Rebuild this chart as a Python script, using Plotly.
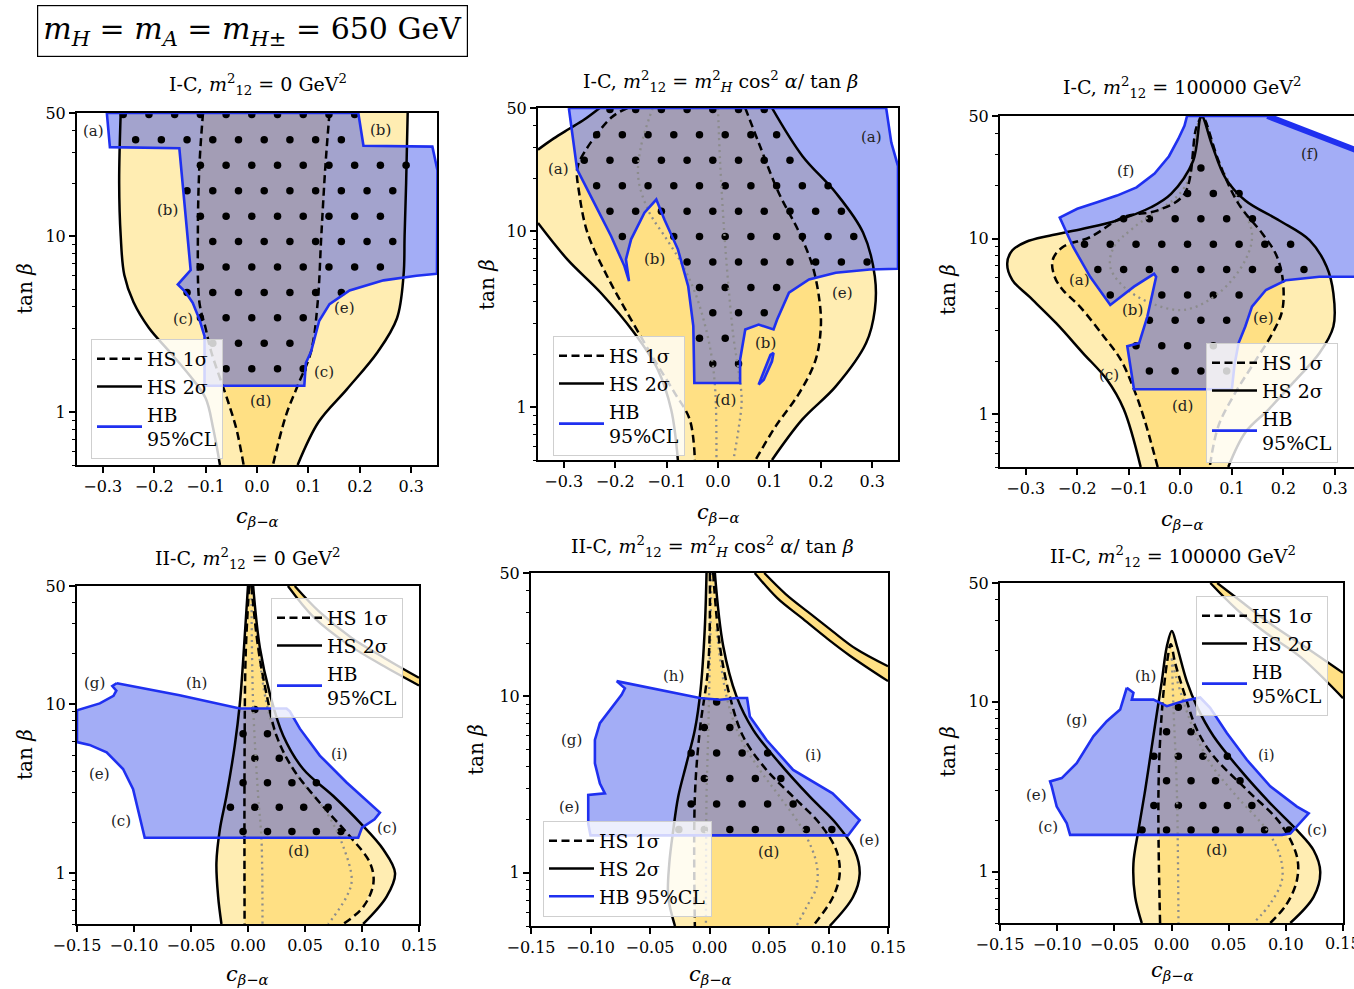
import numpy as np
import plotly.graph_objects as go

FIG_W, FIG_H = 1354, 989
SERIF = "DejaVu Serif, Liberation Serif, serif"

C_2SIG = "#FFEDB2"
C_1SIG = "#FFE084"
C_HB_FILL = "rgba(60,80,235,0.47)"
C_HB_LINE = "#1F30F0"
C_GREY = "#8c8c8c"

# ---------------------------------------------------------------- I-C, m12^2 = 0
IC0_HS2_LEFT = [(-0.265, 50), (-0.268, 20), (-0.265, 10), (-0.258, 6), (-0.24, 4.2), (-0.21, 3.0),
                (-0.17, 2.2), (-0.13, 1.6), (-0.10, 1.2), (-0.085, 0.8), (-0.072, 0.5)]
IC0_HS2_RIGHT = [(0.293, 50), (0.29, 20), (0.287, 10), (0.285, 6), (0.272, 3.4), (0.235, 2.2),
                 (0.175, 1.35), (0.12, 0.88), (0.079, 0.5)]
IC0_HS1_LEFT = [(-0.105, 50), (-0.112, 25), (-0.115, 10), (-0.112, 4.2), (-0.1, 3.0), (-0.089, 2.2),
                (-0.056, 1.14), (-0.04, 0.8), (-0.026, 0.5)]
IC0_HS1_RIGHT = [(0.141, 50), (0.133, 25), (0.125, 10), (0.118, 4.2), (0.105, 2.2), (0.079, 1.41),
                 (0.056, 0.95), (0.031, 0.5)]
IC0_HB = [(-0.292, 50), (-0.286, 32), (-0.151, 31.5), (-0.129, 6.4), (-0.154, 5.3), (-0.139, 4.8),
          (-0.125, 4.17), (-0.112, 3.36), (-0.102, 2.7), (-0.102, 1.41), (0.092, 1.41), (0.095, 1.9),
          (0.105, 2.2), (0.121, 3.3), (0.141, 4.1), (0.18, 4.9), (0.246, 5.6), (0.31, 5.95), (0.35, 6.1),
          (0.351, 23.6), (0.341, 32.2), (0.207, 32.6), (0.197, 50)]
IC0_LABELS = [("(a)", -0.318, 39.6), ("(b)", 0.24, 40), ("(b)", -0.174, 14), ("(c)", -0.144, 3.36),
              ("(e)", 0.171, 3.9), ("(c)", 0.131, 1.68), ("(d)", 0.007, 1.16)]

# ------------------------------------------- I-C, m12^2 = mH^2 cos^2(alpha)/tan(beta)
ICH_HS2_UPPER = [(-0.35, 29), (-0.32, 33.5), (-0.29, 38), (-0.26, 43), (-0.23, 50)]
ICH_HS2_LOWER = [(-0.35, 11.1), (-0.293, 6.9), (-0.228, 4.46), (-0.163, 2.64), (-0.117, 1.63),
                 (-0.091, 0.966), (-0.078, 0.5)]
ICH_HS2_RIGHT = [(0.105, 50), (0.164, 26.7), (0.229, 16.5), (0.282, 9.8), (0.305, 5.5), (0.305, 3.58),
                 (0.288, 2.31), (0.229, 1.31), (0.164, 0.85), (0.105, 0.5)]
ICH_HS1_LEFT = [(-0.176, 50), (-0.208, 44), (-0.264, 26.7), (-0.274, 22.4), (-0.27, 16.5), (-0.254, 9.8),
                (-0.215, 5.5), (-0.169, 3.14), (-0.124, 1.86), (-0.084, 1.2), (-0.055, 0.85), (-0.045, 0.5)]
ICH_HS1_RIGHT = [(0.053, 50), (0.079, 31.8), (0.118, 16.5), (0.158, 9.8), (0.184, 6.3), (0.197, 4.08),
                 (0.2, 2.88), (0.19, 1.86), (0.158, 1.2), (0.112, 0.776), (0.073, 0.5)]
ICH_DOTTED_A = [(-0.127, 50), (-0.15, 30), (-0.155, 20), (-0.135, 13), (-0.1, 9), (-0.07, 6.5),
                (-0.045, 4.5), (-0.025, 2.9), (-0.012, 1.9), (-0.005, 1.2), (-0.003, 0.5)]
ICH_DOTTED_B = [(0.0, 50), (0.004, 25), (0.012, 10), (0.02, 5), (0.03, 2.5), (0.04, 1.6), (0.046, 1.1),
                (0.04, 0.75), (0.03, 0.5)]
ICH_HB = [(-0.29, 50), (-0.274, 22.4), (-0.241, 14.5), (-0.208, 9.37), (-0.182, 6.32), (-0.173, 5.19),
          (-0.179, 6.9), (-0.169, 8.97), (-0.143, 12.7), (-0.12, 15.1), (-0.104, 11.6), (-0.078, 7.87),
          (-0.058, 4.86), (-0.048, 2.88), (-0.046, 1.37), (0.043, 1.37), (0.043, 1.86), (0.053, 2.76),
          (0.079, 2.94), (0.108, 2.76), (0.115, 3.14), (0.138, 4.46), (0.177, 5.31), (0.229, 5.79),
          (0.295, 6.05), (0.35, 6.1), (0.35, 23.4), (0.337, 31.8), (0.327, 50)]
ICH_HB_ISLAND = [(0.079, 1.34), (0.102, 1.98), (0.108, 2.03), (0.105, 1.82), (0.089, 1.43)]
ICH_LABELS = [("(a)", 0.298, 34), ("(a)", -0.31, 22.4), ("(b)", -0.123, 6.9), ("(e)", 0.243, 4.46),
              ("(b)", 0.092, 2.31), ("(d)", 0.014, 1.1)]

# ----------------------------------------------------------- I-C, m12^2 = 100000
ICK_HS2_LEFT = [(0.041, 50), (0.025, 27.8), (-0.018, 18), (-0.057, 15.1), (-0.123, 12.7), (-0.189, 11.4),
                (-0.254, 10.4), (-0.3, 9.57), (-0.326, 8.59), (-0.336, 7.22), (-0.326, 5.81), (-0.293, 4.67),
                (-0.241, 3.3), (-0.189, 2.23), (-0.143, 1.58), (-0.11, 1.07), (-0.077, 0.5)]
ICK_HS2_RIGHT = [(0.041, 50), (0.061, 34.5), (0.087, 22.3), (0.126, 16.5), (0.192, 12.7), (0.251, 9.79),
                 (0.284, 6.92), (0.297, 4.88), (0.297, 3.16), (0.27, 2.23), (0.225, 1.58), (0.172, 1.07),
                 (0.126, 0.787), (0.093, 0.5)]
ICK_HS1_LEFT = [(0.043, 50), (0.031, 42.9), (0.008, 18), (-0.044, 14.5), (-0.11, 13.3), (-0.175, 10.2),
                (-0.228, 8.97), (-0.248, 7.54), (-0.244, 6.07), (-0.228, 5.1), (-0.195, 4.1), (-0.149, 2.78),
                (-0.116, 2.05), (-0.09, 1.385), (-0.07, 0.937), (-0.044, 0.5)]
ICK_HS1_RIGHT = [(0.043, 50), (0.048, 47.5), (0.074, 27.8), (0.113, 15.8), (0.159, 10.7), (0.185, 8.2),
                 (0.198, 6.07), (0.198, 3.93), (0.179, 2.9), (0.139, 1.88), (0.107, 1.33), (0.074, 0.859),
                 (0.057, 0.5)]
ICK_DOTTED = [(0.041, 50), (0.008, 19.6), (-0.09, 11.6), (-0.129, 8.97), (-0.136, 6.9), (-0.11, 5.33),
              (-0.057, 4.29), (0.008, 3.93), (0.074, 4.88), (0.126, 7.54), (0.139, 10.7), (0.113, 16.5),
              (0.074, 27.8), (0.041, 50)]
ICK_HB = [(0.013, 50), (0.169, 50), (0.35, 31.2), (0.35, 6.07), (0.27, 6.07), (0.205, 5.8), (0.166, 5.1),
          (0.139, 4.1), (0.126, 3.16), (0.113, 2.54), (0.105, 1.9), (0.1, 1.386), (-0.09, 1.386),
          (-0.103, 2.44), (-0.08, 2.54), (-0.064, 3.6), (-0.047, 6.06), (-0.051, 6.3), (-0.09, 5.33),
          (-0.136, 4.19), (-0.175, 6.06), (-0.208, 8.97), (-0.234, 13.2), (-0.2, 14.8), (-0.16, 16.2),
          (-0.123, 17.6), (-0.085, 19.6), (-0.05, 23.5), (-0.022, 29.5), (-0.004, 37), (0.008, 44)]
ICK_LABELS = [("(f)", -0.107, 24.4), ("(f)", 0.251, 30.3), ("(a)", -0.195, 5.81), ("(b)", -0.093, 3.93),
              ("(e)", 0.162, 3.53), ("(c)", -0.139, 1.68), ("(d)", 0.005, 1.11)]

# --------------------------------------------------------------- II-C, m12^2 = 0
IIC0_HS2_LEFT = [(0.0, 50), (-0.0043, 17.9), (-0.0072, 10), (-0.0116, 5.7), (-0.0189, 2.86),
                 (-0.0247, 1.81), (-0.0277, 1.15), (-0.0262, 0.726), (-0.0233, 0.5)]
IIC0_HS2_RIGHT = [(0.0045, 50), (0.0104, 21.6), (0.0192, 11.5), (0.0309, 6.5), (0.0484, 4.13),
                  (0.0748, 2.86), (0.0982, 1.99), (0.1187, 1.38), (0.129, 1.0), (0.1216, 0.726), (0.101, 0.5)]
IIC0_HS1_LEFT = [(0.001, 50), (-0.002, 20), (-0.003, 5), (-0.003, 0.5)]
IIC0_HS1_RIGHT = [(0.003, 50), (0.0089, 21.6), (0.0162, 11.5), (0.025, 6.5), (0.0396, 4.13), (0.063, 2.61),
                  (0.0894, 1.65), (0.107, 1.15), (0.11, 0.87), (0.101, 0.63), (0.0835, 0.5)]
IIC0_DOT_LEFT = [(0.003, 50), (0.0045, 10), (0.0089, 2.86), (0.0118, 1.6), (0.0127, 0.5)]
IIC0_DOT_RIGHT = [(0.0075, 28), (0.016, 10.3), (0.028, 5.7), (0.0456, 3.6), (0.069, 2.28), (0.0835, 1.44),
                  (0.091, 0.91), (0.0865, 0.726), (0.0704, 0.5)]
IIC0_BAND_A = [(0.041, 50), (0.062, 35.5), (0.091, 24.6), (0.12, 18.7), (0.15, 14.3)]
IIC0_BAND_B = [(0.035, 50), (0.058, 32.5), (0.088, 22.5), (0.117, 17.1), (0.15, 12.9)]
IIC0_HB = [(-0.115, 13.3), (-0.06, 11.3), (-0.0072, 9.42), (0.02, 9.4), (0.0338, 9.42), (0.0367, 9.07),
           (0.0455, 7.16), (0.063, 4.96), (0.0865, 3.44), (0.1157, 2.28), (0.111, 2.08), (0.1, 1.86),
           (0.0967, 1.62), (-0.0906, 1.62), (-0.095, 2.18), (-0.1008, 3.14), (-0.1096, 4.13),
           (-0.124, 5.19), (-0.139, 5.74), (-0.15, 5.96), (-0.15, 9.2), (-0.13, 10.1), (-0.118, 11.2),
           (-0.1155, 12.0), (-0.119, 12.8)]
IIC0_LABELS = [("(g)", -0.1345, 13.3), ("(h)", -0.0452, 13.3), ("(i)", 0.0806, 5.08), ("(e)", -0.13, 3.86),
               ("(c)", -0.111, 2.03), ("(c)", 0.1216, 1.85), ("(d)", 0.044, 1.35)]

# ------------------------------------------ II-C, m12^2 = mH^2 cos^2(alpha)/tan(beta)
IICH_HS2_LEFT = [(-0.0025, 50), (-0.004, 24), (-0.0075, 10.9), (-0.0123, 6.46), (-0.0193, 4.17),
                 (-0.0263, 2.7), (-0.0305, 1.74), (-0.0338, 1.13), (-0.0347, 0.73), (-0.029, 0.5)]
IICH_HS2_RIGHT = [(0.0045, 50), (0.0115, 19.3), (0.0227, 10), (0.0367, 6.46), (0.059, 4.17), (0.0843, 2.7),
                  (0.1066, 1.9), (0.122, 1.34), (0.1262, 0.987), (0.1206, 0.73), (0.101, 0.5)]
IICH_HS1_LEFT = [(0.0003, 50), (-0.001, 15), (-0.0081, 6.46), (-0.0123, 2.7), (-0.0123, 0.5)]
IICH_HS1_RIGHT = [(0.0031, 50), (0.0087, 19.3), (0.0171, 10), (0.0283, 5.92), (0.0479, 3.83), (0.0703, 2.7),
                  (0.0927, 1.9), (0.1066, 1.34), (0.1094, 0.987), (0.1038, 0.73), (0.087, 0.5)]
IICH_DOT_LEFT = [(0.0017, 50), (-0.001, 6.46), (-0.0025, 2.7), (-0.003, 0.5)]
IICH_DOT_RIGHT = [(0.0059, 24), (0.0143, 10), (0.0255, 5.9), (0.0423, 3.83), (0.059, 2.7), (0.0787, 1.74),
                  (0.0899, 1.13), (0.0899, 0.83), (0.0815, 0.64), (0.073, 0.5)]
IICH_BAND_A = [(0.046, 50), (0.064, 38), (0.083, 30), (0.103, 23.5), (0.123, 18.6), (0.15, 14.8)]
IICH_BAND_B = [(0.038, 50), (0.057, 36), (0.077, 28), (0.098, 21.5), (0.118, 17), (0.15, 12.2)]
IICH_HB = [(-0.0781, 12.2), (-0.0417, 10.9), (-0.0081, 9.78), (0.0087, 9.57), (0.0227, 9.78),
           (0.0316, 9.78), (0.0339, 7.7), (0.0479, 5.66), (0.0703, 3.83), (0.1034, 2.82), (0.1262, 1.99),
           (0.1164, 1.63), (-0.1, 1.63), (-0.1019, 1.9), (-0.1019, 2.76), (-0.0879, 2.82), (-0.0921, 3.21),
           (-0.0963, 4.17), (-0.0963, 5.66), (-0.0921, 7.05), (-0.0837, 8.4), (-0.0739, 10.2),
           (-0.0711, 11.1)]
IICH_LABELS = [("(h)", -0.0305, 13), ("(g)", -0.1159, 5.67), ("(i)", 0.087, 4.65), ("(e)", -0.1173, 2.37),
               ("(e)", 0.1346, 1.53), ("(d)", 0.0493, 1.31)]

# ---------------------------------------------------------- II-C, m12^2 = 100000
IICK_HS2_LEFT = [(0.0003, 26.1), (-0.004, 21.3), (-0.0085, 13.2), (-0.0114, 9.87), (-0.0172, 5.47),
                 (-0.023, 3.03), (-0.0289, 1.76), (-0.0333, 1.12), (-0.0318, 0.712), (-0.026, 0.5)]
IICK_HS2_RIGHT = [(0.0003, 26.1), (0.0047, 21.3), (0.0134, 13.2), (0.0222, 9.4), (0.0368, 6.27),
                  (0.0601, 3.98), (0.0864, 2.53), (0.1097, 1.76), (0.1243, 1.34), (0.1301, 1.0),
                  (0.1243, 0.712), (0.1039, 0.5)]
IICK_HS1_LEFT = [(-0.0006, 21.8), (-0.004, 16.9), (-0.0085, 8.6), (-0.0114, 3.0), (-0.01, 0.5)]
IICK_HS1_RIGHT = [(-0.0006, 21.8), (0.0032, 16.9), (0.012, 10.8), (0.0222, 6.87), (0.0368, 4.78),
                  (0.066, 3.03), (0.0951, 1.93), (0.1097, 1.23), (0.1097, 0.893), (0.101, 0.65), (0.0864, 0.5)]
IICK_DOT_LEFT = [(0.0003, 18), (0.0018, 9), (0.0047, 3.0), (0.0061, 0.5)]
IICK_DOT_RIGHT = [(0.0003, 18), (0.0047, 13.5), (0.0193, 6.87), (0.0338, 4.36), (0.0572, 2.77),
                  (0.0834, 1.76), (0.0951, 1.23), (0.0966, 0.893), (0.0864, 0.65), (0.0718, 0.5)]
IICK_BAND_A = [(0.04, 50), (0.063, 38), (0.089, 28), (0.118, 20.8), (0.15, 14.8)]
IICK_BAND_B = [(0.034, 50), (0.057, 35), (0.083, 25.3), (0.113, 18.3), (0.15, 10.5)]
IICK_HB = [(-0.0391, 12.1), (-0.0333, 11.3), (-0.0347, 10.3), (-0.0158, 10.3), (-0.0041, 9.43),
           (0.0105, 10.1), (0.0251, 10.6), (0.0338, 9.22), (0.0484, 6.56), (0.0659, 4.56), (0.0864, 3.18),
           (0.1097, 2.42), (0.12, 2.21), (0.1039, 1.68), (0.0966, 1.65), (-0.0887, 1.65), (-0.0916, 1.93),
           (-0.1004, 2.42), (-0.1048, 3.18), (-0.1062, 3.4), (-0.096, 3.56), (-0.0829, 4.36),
           (-0.0683, 6.27), (-0.0566, 7.69), (-0.0449, 9.01)]
IICK_LABELS = [("(h)", -0.0231, 14.2), ("(g)", -0.0829, 7.87), ("(i)", 0.0834, 4.89), ("(e)", -0.1179, 2.84),
               ("(c)", -0.1077, 1.84), ("(c)", 0.1272, 1.76), ("(d)", 0.0397, 1.34)]

# ------------------------------------------------------------------ axis ticks
TOP_XTICKS = [-0.3, -0.2, -0.1, 0.0, 0.1, 0.2, 0.3]
TOP_XTEXT = ["\u22120.3", "\u22120.2", "\u22120.1", "0.0", "0.1", "0.2", "0.3"]
BOT_XTICKS = [-0.15, -0.10, -0.05, 0.0, 0.05, 0.10, 0.15]
BOT_XTEXT = ["\u22120.15", "\u22120.10", "\u22120.05", "0.00", "0.05", "0.10", "0.15"]
Y_TICKS = [1, 10, 50]
Y_TEXT = ["1", "10", "50"]
Y_MINOR = [0.5, 0.6, 0.7, 0.8, 0.9, 2, 3, 4, 5, 6, 7, 8, 9, 20, 30, 40]
TAN_RANGE = (0.5, 50)

M12 = "<i>m</i><sup>2</sup><sub>12</sub>"
MH_COS = "<i>m</i><sup>2</sup><sub><i>H</i></sub> cos<sup>2</sup> <i>\u03b1</i>/ tan <i>\u03b2</i>"


def rev(p):
    return list(p)[::-1]


PANELS = [
    dict(title=f"I-C, {M12} = 0 GeV<sup>2</sup>", dx=(77, 437), dy=(113, 465), xr=(-0.35, 0.35),
         xnom=(-0.35, 0.35), ticks=(TOP_XTICKS, TOP_XTEXT), tpos=(258, 85), xl=(257, 517), yl=(25, 289),
         leg=(91, 339), hbname="HB<br>95%CL",
         hs2_fill=rev(IC0_HS2_LEFT) + IC0_HS2_RIGHT, hs2_lines=[IC0_HS2_LEFT, IC0_HS2_RIGHT],
         hs1_fill=rev(IC0_HS1_LEFT) + IC0_HS1_RIGHT, hs1_lines=[IC0_HS1_LEFT, IC0_HS1_RIGHT],
         dotted=[], bands=[], hb=[IC0_HB], labels=IC0_LABELS),
    dict(title=f"I-C, {M12} = {MH_COS}", dx=(538, 898), dy=(108, 460), xr=(-0.35, 0.35),
         xnom=(-0.35, 0.35), ticks=(TOP_XTICKS, TOP_XTEXT), tpos=(720, 82), xl=(718, 513), yl=(487, 285),
         leg=(553, 336), hbname="HB<br>95%CL",
         hs2_fill=rev(ICH_HS2_LOWER) + ICH_HS2_UPPER + ICH_HS2_RIGHT,
         hs2_lines=[ICH_HS2_UPPER, ICH_HS2_LOWER, ICH_HS2_RIGHT],
         hs1_fill=rev(ICH_HS1_LEFT) + ICH_HS1_RIGHT, hs1_lines=[ICH_HS1_LEFT, ICH_HS1_RIGHT],
         dotted=[ICH_DOTTED_A, ICH_DOTTED_B], bands=[], hb=[ICH_HB, ICH_HB_ISLAND], labels=ICH_LABELS),
    dict(title=f"I-C, {M12} = 100000 GeV<sup>2</sup>", dx=(1000, 1354), dy=(116, 467), xr=(-0.35, 0.337),
         xnom=(-0.35, 0.35), ticks=(TOP_XTICKS, TOP_XTEXT), tpos=(1182, 88), xl=(1182, 520), yl=(948, 290),
         leg=(1206, 343), hbname="HB<br>95%CL", noright=True,
         hs2_fill=rev(ICK_HS2_LEFT) + ICK_HS2_RIGHT[1:], hs2_lines=[rev(ICK_HS2_LEFT) + ICK_HS2_RIGHT[1:]],
         hs1_fill=rev(ICK_HS1_LEFT) + ICK_HS1_RIGHT[1:], hs1_lines=[rev(ICK_HS1_LEFT) + ICK_HS1_RIGHT[1:]],
         dotted=[ICK_DOTTED], bands=[], hb=[ICK_HB], ridge=ICK_HB[1:3], labels=ICK_LABELS),
    dict(title=f"II-C, {M12} = 0 GeV<sup>2</sup>", dx=(77, 419), dy=(586, 924), xr=(-0.15, 0.15),
         xnom=(-0.15, 0.15), ticks=(BOT_XTICKS, BOT_XTEXT), tpos=(248, 558), xl=(248, 975), yl=(25, 755),
         leg=(271, 598), hbname="HB<br>95%CL",
         hs2_fill=rev(IIC0_HS2_LEFT) + IIC0_HS2_RIGHT, hs2_lines=[IIC0_HS2_LEFT, IIC0_HS2_RIGHT],
         hs1_fill=rev(IIC0_HS1_LEFT) + IIC0_HS1_RIGHT, hs1_lines=[IIC0_HS1_LEFT, IIC0_HS1_RIGHT],
         dotted=[IIC0_DOT_LEFT, IIC0_DOT_RIGHT], bands=[(IIC0_BAND_A, IIC0_BAND_B)], hb=[IIC0_HB],
         labels=IIC0_LABELS),
    dict(title=f"II-C, {M12} = {MH_COS}", dx=(531, 888), dy=(573, 926), xr=(-0.15, 0.15),
         xnom=(-0.15, 0.15), ticks=(BOT_XTICKS, BOT_XTEXT), tpos=(712, 546), xl=(710, 975), yl=(476, 750),
         leg=(543, 821), hbname="HB 95%CL",
         hs2_fill=rev(IICH_HS2_LEFT) + IICH_HS2_RIGHT, hs2_lines=[IICH_HS2_LEFT, IICH_HS2_RIGHT],
         hs1_fill=rev(IICH_HS1_LEFT) + IICH_HS1_RIGHT, hs1_lines=[IICH_HS1_LEFT, IICH_HS1_RIGHT],
         dotted=[IICH_DOT_LEFT, IICH_DOT_RIGHT], bands=[(IICH_BAND_A, IICH_BAND_B)], hb=[IICH_HB],
         labels=IICH_LABELS),
    dict(title=f"II-C, {M12} = 100000 GeV<sup>2</sup>", dx=(1000, 1343), dy=(583, 923), xr=(-0.15, 0.15),
         xnom=(-0.15, 0.15), ticks=(BOT_XTICKS, BOT_XTEXT), tpos=(1173, 556), xl=(1172, 971), yl=(948, 752),
         leg=(1196, 596), hbname="HB<br>95%CL", edge_tick=True,
         hs2_fill=rev(IICK_HS2_LEFT) + IICK_HS2_RIGHT[1:], hs2_lines=[rev(IICK_HS2_LEFT) + IICK_HS2_RIGHT[1:]],
         hs1_fill=rev(IICK_HS1_LEFT) + IICK_HS1_RIGHT[1:], hs1_lines=[rev(IICK_HS1_LEFT) + IICK_HS1_RIGHT[1:]],
         dotted=[IICK_DOT_LEFT, IICK_DOT_RIGHT], bands=[(IICK_BAND_A, IICK_BAND_B)], hb=[IICK_HB],
         labels=IICK_LABELS),
]

# staggered dot hatch, laid out in axis fractions (x) and log10 tan(beta) (rows)
DOT_ROW_LOG0, DOT_ROW_STEP = 0.246, 0.1445
DOT_COL_STEP = 1 / 14
DOT_COL_OFFSET = (0.057, 0.020)


def px_x(p):
    return p / FIG_W


def px_y(p):
    return 1 - p / FIG_H


def xs(path):
    return [p[0] for p in path]


def ts(path):
    return [p[1] for p in path]


def inside(qx, qy, poly):
    """Even-odd point-in-polygon test in (x, log10 tan beta) space."""
    vx = np.array(xs(poly), float)
    vy = np.log10(np.array(ts(poly), float))
    res = np.zeros(len(qx), bool)
    j = len(poly) - 1
    with np.errstate(divide="ignore", invalid="ignore"):
        for i in range(len(poly)):
            cross = (vy[i] > qy) != (vy[j] > qy)
            xint = (vx[j] - vx[i]) * (qy - vy[i]) / (vy[j] - vy[i]) + vx[i]
            res ^= cross & (qx < xint)
            j = i
    return res


def hatch_dots(x0, x1, region_a, region_b):
    gx, gy = [], []
    for k in range(-4, 12):
        lt = DOT_ROW_LOG0 + k * DOT_ROW_STEP
        off = DOT_COL_OFFSET[k % 2]
        j = 0
        while off + j * DOT_COL_STEP <= 1.0:
            gx.append(x0 + (off + j * DOT_COL_STEP) * (x1 - x0))
            gy.append(lt)
            j += 1
    gx, gy = np.array(gx), np.array(gy)
    lo, hi = np.log10(TAN_RANGE[0]), np.log10(TAN_RANGE[1])
    keep = inside(gx, gy, region_a) & inside(gx, gy, region_b) & (gy >= lo) & (gy <= hi + 0.005)
    return gx[keep], 10 ** gy[keep]


def paper_text(text, x, y, size, **kw):
    return dict(text=text, x=px_x(x), y=px_y(y), xref="paper", yref="paper", showarrow=False,
                xanchor="center", yanchor="middle", font=dict(family=SERIF, size=size, color="black"), **kw)


fig = go.Figure()
layout = dict(width=FIG_W, height=FIG_H, autosize=False, margin=dict(l=0, r=0, t=0, b=0, pad=0),
              paper_bgcolor="white", plot_bgcolor="white", showlegend=True,
              font=dict(family=SERIF, color="black"))
annotations = []

for n, P in enumerate(PANELS, start=1):
    sfx = "" if n == 1 else str(n)
    xa, ya = "x" + sfx, "y" + sfx
    leg = "legend" + sfx
    common = dict(xaxis=xa, yaxis=ya, hoverinfo="skip", legend=leg)

    # allowed regions
    fig.add_trace(go.Scatter(x=xs(P["hs2_fill"]), y=ts(P["hs2_fill"]), mode="lines", fill="toself",
                             fillcolor=C_2SIG, line=dict(width=0), showlegend=False, **common))
    for a, b in P["bands"]:
        poly = a + rev(b)
        fig.add_trace(go.Scatter(x=xs(poly), y=ts(poly), mode="lines", fill="toself",
                                 fillcolor=C_1SIG, line=dict(width=0), showlegend=False, **common))
    fig.add_trace(go.Scatter(x=xs(P["hs1_fill"]), y=ts(P["hs1_fill"]), mode="lines", fill="toself",
                             fillcolor=C_1SIG, line=dict(width=0), showlegend=False, **common))
    # HiggsBounds excluded region
    for poly in P["hb"]:
        fig.add_trace(go.Scatter(x=xs(poly), y=ts(poly), mode="lines", fill="toself",
                                 fillcolor=C_HB_FILL, line=dict(width=0), showlegend=False, **common))
    # hatch of points excluded by HB but allowed by HS
    dx_, dy_ = hatch_dots(P["xnom"][0], P["xnom"][1], P["hs2_fill"], P["hb"][0])
    fig.add_trace(go.Scatter(x=dx_, y=dy_, mode="markers", marker=dict(size=7.5, color="black"),
                             showlegend=False, **common))
    for path in P["dotted"]:
        fig.add_trace(go.Scatter(x=xs(path), y=ts(path), mode="lines", showlegend=False,
                                 line=dict(color=C_GREY, width=2.3, dash="2px,4px", shape="spline"), **common))
    for k, path in enumerate(P["hs2_lines"]):
        fig.add_trace(go.Scatter(x=xs(path), y=ts(path), mode="lines", name="HS 2\u03c3",
                                 showlegend=(k == 0), legendrank=2,
                                 line=dict(color="black", width=2.5, shape="spline"), **common))
    for a, b in P["bands"]:
        for path in (a, b):
            fig.add_trace(go.Scatter(x=xs(path), y=ts(path), mode="lines", showlegend=False,
                                     line=dict(color="black", width=2.3, shape="spline"), **common))
    for k, path in enumerate(P["hs1_lines"]):
        fig.add_trace(go.Scatter(x=xs(path), y=ts(path), mode="lines", name="HS 1\u03c3",
                                 showlegend=(k == 0), legendrank=1,
                                 line=dict(color="black", width=2.5, dash="8px,4.5px", shape="spline"), **common))
    for k, poly in enumerate(P["hb"]):
        ring = list(poly) + [poly[0]]
        fig.add_trace(go.Scatter(x=xs(ring), y=ts(ring), mode="lines", name=P["hbname"],
                                 showlegend=(k == 0), legendrank=3,
                                 line=dict(color=C_HB_LINE, width=2.6), **common))
    if "ridge" in P:
        fig.add_trace(go.Scatter(x=xs(P["ridge"]), y=ts(P["ridge"]), mode="lines", showlegend=False,
                                 line=dict(color=C_HB_LINE, width=6), **common))

    # axes
    tv, tt = P["ticks"]
    layout["xaxis" + sfx] = dict(
        domain=[px_x(P["dx"][0]), px_x(P["dx"][1])], range=list(P["xr"]), anchor=ya, automargin=False,
        tickmode="array", tickvals=tv, ticktext=tt, ticks="outside", ticklen=6, tickwidth=1.6,
        tickcolor="black", showline=True, linecolor="black", linewidth=2, mirror=True,
        showgrid=False, zeroline=False, tickfont=dict(family=SERIF, size=16, color="black"))
    layout["yaxis" + sfx] = dict(
        domain=[px_y(P["dy"][1]), px_y(P["dy"][0])], type="log", automargin=False,
        range=[np.log10(TAN_RANGE[0]), np.log10(TAN_RANGE[1])], anchor=xa,
        tickmode="array", tickvals=Y_TICKS, ticktext=Y_TEXT, ticks="outside", ticklen=6, tickwidth=1.6,
        tickcolor="black", showline=True, linecolor="black", linewidth=2,
        mirror=(False if P.get("noright") else True),
        minor=dict(tickmode="array", tickvals=Y_MINOR, ticks="outside", ticklen=3.5, tickwidth=1.3,
                   tickcolor="black", showgrid=False),
        showgrid=False, zeroline=False, tickfont=dict(family=SERIF, size=16, color="black"))

    layout[leg] = dict(x=px_x(P["leg"][0]), y=px_y(P["leg"][1]), xanchor="left", yanchor="top",
                       bgcolor="rgba(255,255,255,0.8)", bordercolor="#cfcfcf", borderwidth=1,
                       font=dict(family=SERIF, size=19, color="black"), itemwidth=45,
                       tracegroupgap=0, traceorder="normal")

    annotations.append(paper_text(P["title"], P["tpos"][0], P["tpos"][1], 19))
    annotations.append(paper_text("<i>c</i><sub><i>\u03b2\u2212\u03b1</i></sub>", P["xl"][0], P["xl"][1], 21))
    annotations.append(paper_text("tan <i>\u03b2</i>", P["yl"][0], P["yl"][1], 20, textangle=-90))
    if P.get("edge_tick"):
        # last tick label runs past the page edge, so it is placed by hand and left to be cut off
        annotations.append(dict(text=tt[-1], x=tv[-1], y=px_y(P["dy"][1] + 9), xref=xa, yref="paper",
                                showarrow=False, xanchor="center", yanchor="top",
                                font=dict(family=SERIF, size=16, color="black")))
    for txt, lx, lt in P["labels"]:
        annotations.append(dict(text=txt, x=lx, y=float(np.log10(lt)), xref=xa, yref=ya,
                                showarrow=False, xanchor="center", yanchor="middle",
                                font=dict(family=SERIF, size=15, color="#222")))

annotations.append(paper_text(
    "<i>m<sub>H</sub></i> = <i>m<sub>A</sub></i> = <i>m</i><sub><i>H</i>\u00b1</sub> = 650 GeV",
    252, 31, 30, bordercolor="black", borderwidth=1.2, borderpad=5, bgcolor="white"))

layout["annotations"] = annotations
fig.update_layout(**layout)
fig.write_html("out.html")
